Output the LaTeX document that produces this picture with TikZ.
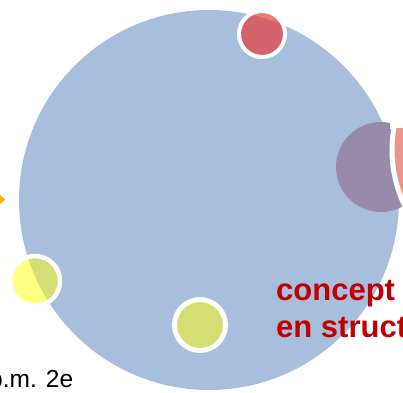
\documentclass[tikz,border=0pt]{standalone}
\usepackage{fontspec}
\setmainfont{Liberation Sans}
\usepackage{xcolor}
\usepackage{tikz}

\definecolor{discblue}{RGB}{167,191,221}
\definecolor{mauve}{RGB}{152,138,170}
\definecolor{salmon}{RGB}{232,150,140}
\definecolor{spotred}{RGB}{235,50,50}
\definecolor{spotyellow}{RGB}{255,255,10}
\definecolor{tiporange}{RGB}{255,180,0}
\definecolor{titlered}{RGB}{192,0,0}

\begin{document}
\begin{tikzpicture}[x=1pt, y=-1pt, spot/.style={circle, draw=white, line width=4pt, inner sep=0pt, minimum size=#1}, title/.style={anchor=base west, inner sep=0pt, text=titlered, font=\bfseries\fontsize{31}{37}\selectfont}]
   \path [use as bounding box, clip] (0,0) rectangle (403,392);
   \node [circle, fill=discblue, inner sep=0pt, minimum size=380pt] (disc) at (209,200) {};
   \node [circle, fill=mauve, inner sep=0pt, minimum size=90pt] (mauve) at (381,167) {};
   \fill [white] (390,100) rectangle (410,129);
   \begin{scope}
      \clip (380,128) rectangle (410,220);
      \node [spot=256pt, line width=5pt, fill=salmon] (salmon) at (520,150) {};
   \end{scope}
   \node [spot=46pt, fill=spotred, fill opacity=0.66] (topspot) at (262,34) {};
   \node [spot=50pt, line width=4.5pt, fill=spotyellow, fill opacity=0.5] (leftspot) at (35,281) {};
   \node [spot=51pt, line width=5pt, fill=spotyellow, fill opacity=0.5] (lowspot) at (200,325) {};
   \fill [tiporange] (-3,192.5) -- (5.5,199.5) -- (-3,206.5) -- cycle;

   \node [title] (concept) at (276,300) {concept};
   \node [title] (struct) at (276,337) {en struct};
   \node [anchor=base west, inner sep=0pt, font=\fontsize{24.5}{28}\selectfont] (date) at (-11,387) {p.m. 2e};
\end{tikzpicture}
\end{document}
